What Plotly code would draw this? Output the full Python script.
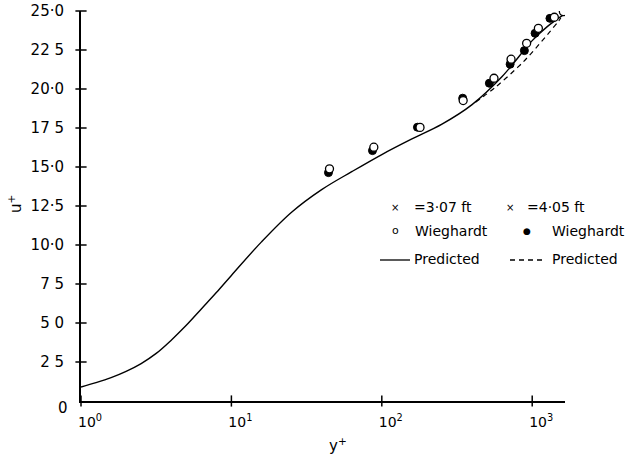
import plotly.graph_objects as go

# ---- data ----
# Predicted, x = 3.07 ft (solid)
pred_307_yplus = [1.0, 1.259, 1.585, 1.995, 2.512, 3.162, 3.981, 5.012, 6.31, 7.943, 10.0,
                  15.85, 25.12, 39.81, 63.1, 100, 158.5, 251.2, 398.1, 631.0, 1000, 1259, 1611]
pred_307_uplus = [0.9, 1.18, 1.5, 1.9, 2.4, 3.05, 3.9, 4.85, 5.9, 6.95, 8.05,
                  10.2, 12.1, 13.55, 14.7, 15.8, 16.8, 17.75, 19.0, 20.8, 23.1, 24.0, 24.75]
# Predicted, x = 4.05 ft (dashed)
pred_405_yplus = [420, 575, 809, 942, 1127, 1312, 1489, 1550]
pred_405_uplus = [19.15, 20.15, 21.43, 22.08, 22.93, 23.68, 24.32, 24.55]
# Wieghardt, x = 3.07 ft (open circles)
wieg_307_yplus = [44.9, 88.5, 179.5, 347.5, 557, 723, 918, 1099, 1403, 1611]
wieg_307_uplus = [14.88, 16.27, 17.54, 19.26, 20.69, 21.91, 22.93, 23.89, 24.6, 24.96]
# Wieghardt, x = 4.05 ft (filled circles)
wieg_405_yplus = [44.2, 86.7, 172.6, 345, 519, 713, 887, 1045, 1312]
wieg_405_uplus = [14.64, 16.05, 17.55, 19.41, 20.37, 21.59, 22.46, 23.57, 24.53]

x_tickvals = [1, 10, 100, 1000]
x_ticktext = ["10<sup>0</sup>", "10<sup>1</sup>", "10<sup>2</sup>", "10<sup>3</sup>"]
y_tickvals = [2.5, 5, 7.5, 10, 12.5, 15, 17.5, 20, 22.5, 25]
y_ticktext = ["2 5", "5 0", "7 5", "10·0", "12·5", "15·0", "17 5", "20·0", "22 5", "25·0"]
origin_label = "0"
x_title = "y<sup>+</sup>"
y_title = "u<sup>+</sup>"
legend_rows = [
    ("×", "=3·07 ft", "×", "=4·05 ft"),
    ("o", "Wieghardt", "●", "Wieghardt"),
    ("", "Predicted", "", "Predicted"),
]

FONT = "DejaVu Sans"
fig = go.Figure()

fig.add_trace(go.Scatter(x=pred_307_yplus, y=pred_307_uplus, mode="lines",
                         line=dict(color="black", width=1.4, shape="spline", smoothing=1.0),
                         showlegend=False, hoverinfo="skip"))
fig.add_trace(go.Scatter(x=pred_405_yplus, y=pred_405_uplus, mode="lines",
                         line=dict(color="black", width=1.2, dash="5px,4px", shape="spline", smoothing=1.0),
                         showlegend=False, hoverinfo="skip"))
fig.add_trace(go.Scatter(x=wieg_405_yplus, y=wieg_405_uplus, mode="markers",
                         marker=dict(symbol="circle", size=8, color="black",
                                     line=dict(color="black", width=1)),
                         showlegend=False))
fig.add_trace(go.Scatter(x=wieg_307_yplus, y=wieg_307_uplus, mode="markers",
                         marker=dict(symbol="circle", size=8, color="white",
                                     line=dict(color="black", width=1.3)),
                         showlegend=False))
# tick marks crossing the axis lines, placed at the tick values
fig.add_trace(go.Scatter(x=x_tickvals, y=[0] * len(x_tickvals), mode="markers",
                         marker=dict(symbol="line-ns", size=8, line=dict(color="black", width=1.5)),
                         cliponaxis=False, showlegend=False, hoverinfo="skip"))
fig.add_trace(go.Scatter(x=[1] * len(y_tickvals), y=y_tickvals, mode="markers",
                         marker=dict(symbol="line-ew", size=8, line=dict(color="black", width=1.5)),
                         cliponaxis=False, showlegend=False, hoverinfo="skip"))

L, R, T, B = 81, 72, 11, 56
W, H = 637, 457
pw, ph = W - L - R, H - T - B

def px(xp):
    return (xp - L) / pw

def py(yp):
    return (H - B - yp) / ph

fig.update_layout(
    width=W, height=H,
    margin=dict(l=L, r=R, t=T, b=B, autoexpand=False),
    paper_bgcolor="white", plot_bgcolor="white",
    font=dict(family=FONT, size=14, color="black"),
    xaxis=dict(type="log", range=[0, 3.218], showgrid=False, zeroline=False, automargin=False,
               showline=True, linecolor="black", linewidth=2,
               tickvals=x_tickvals, ticktext=x_ticktext, ticks="",
               tickfont=dict(family=FONT, size=14), ticklabelshift=9,
               ticklabelstandoff=7),
    yaxis=dict(range=[0, 25], showgrid=False, zeroline=False, automargin=False,
               showline=True, linecolor="black", linewidth=2,
               tickvals=y_tickvals, ticktext=y_ticktext, ticks="",
               tickfont=dict(family=FONT, size=15), ticklabelstandoff=12),
    showlegend=False,
)

def note(text, x, y, size=14, xanchor="center", angle=0):
    return dict(text=text, x=px(x), y=py(y), xref="paper", yref="paper",
                showarrow=False, xanchor=xanchor, yanchor="middle", textangle=angle,
                font=dict(size=size, family=FONT, color="black"))

ann = [note(x_title, 338, 445, 15),
       note(y_title, 15, 204, 15, angle=-90),
       note(origin_label, 63, 408, 15)]

row_y = [207, 231, 259]
sym_x = [[395, 510], [395, 527]]
txt_x = [[412, 525], [413, 550], [412, 550]]
sym_size = {"×": 10, "o": 11, "●": 9}
for i, row in enumerate(legend_rows):
    s1, t1, s2, t2 = row
    for j, (s, t) in enumerate(((s1, t1), (s2, t2))):
        if s:
            ann.append(note(s, sym_x[i][j], row_y[i] - (1 if s == "o" else 0), sym_size[s]))
        ann.append(note(t, txt_x[i][j], row_y[i], 14, xanchor="left"))
fig.update_layout(annotations=ann)

# legend line samples
fig.add_shape(type="line", xref="paper", yref="paper",
              x0=px(380), x1=px(410), y0=py(260), y1=py(260),
              line=dict(color="black", width=1.3))
fig.add_shape(type="line", xref="paper", yref="paper",
              x0=px(510), x1=px(542), y0=py(260), y1=py(260),
              line=dict(color="black", width=1.3, dash="5px,4px"))

fig.write_html("out.html", config={"displayModeBar": False},
               post_script="document.body.style.margin='0';")
